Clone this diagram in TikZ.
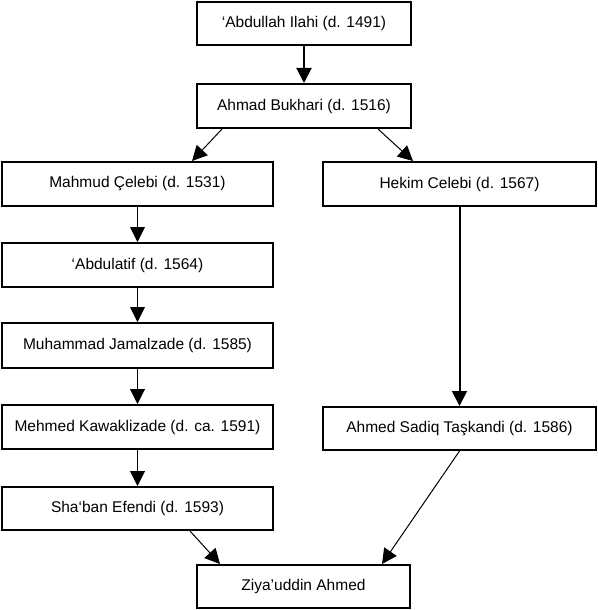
\documentclass[tikz,border=0pt]{standalone}
\usepackage{fontspec}
\setmainfont{Liberation Sans}
\usetikzlibrary{arrows.meta}
\begin{document}
\begin{tikzpicture}[x=1pt,y=-1pt,
  box/.style={draw=black, line width=2pt, rectangle, inner sep=0pt, font=\fontsize{15.5}{18}\selectfont},
  thin arrow/.style={line width=1pt, -{Triangle[length=15pt,width=15pt]}},
  thick arrow/.style={line width=2pt, -{Triangle[length=15pt,width=15pt]}}]
\useasboundingbox (0,0) rectangle (597,610);
\node[box, minimum width=214pt, minimum height=43pt] (n1) at (304,23.5) {‘Abdullah Ilahi (d. 1491)};
\node[box, minimum width=214pt, minimum height=44pt] (n2) at (304,106) {Ahmad Bukhari (d. 1516)};
\node[box, minimum width=271pt, minimum height=44pt] (n3) at (137.5,184) {Mahmud Çelebi (d. 1531)};
\node[box, minimum width=271pt, minimum height=44pt] (n4) at (137.5,265) {‘Abdulatif (d. 1564)};
\node[box, minimum width=271pt, minimum height=45pt] (n5) at (137.5,345.5) {Muhammad Jamalzade (d. 1585)};
\node[box, minimum width=271pt, minimum height=44pt] (n6) at (137.5,427) {Mehmed Kawaklizade (d. ca. 1591)};
\node[box, minimum width=271pt, minimum height=43pt] (n7) at (137.5,508.5) {Sha‘ban Efendi (d. 1593)};
\node[box, minimum width=213pt, minimum height=43pt] (n8) at (303.5,586.5) {Ziya’uddin Ahmed};
\node[box, minimum width=273pt, minimum height=44pt] (n9) at (459.5,184) {Hekim Celebi (d. 1567)};
\node[box, minimum width=273pt, minimum height=43pt] (n10) at (459.5,428.5) {Ahmed Sadiq Taşkandi (d. 1586)};

\draw[thick arrow] (n1) -- (n2);
\draw[thin arrow] ([xshift=-82pt]n2.south) -- ([xshift=54.5pt]n3.north);
\draw[thin arrow] ([xshift=74pt]n2.south) -- ([xshift=-46.5pt]n9.north);
\draw[thin arrow] (n3) -- (n4);
\draw[thin arrow] (n4) -- (n5);
\draw[thin arrow] (n5) -- (n6);
\draw[thin arrow] (n6) -- (n7);
\draw[thick arrow] (n9) -- (n10);
\draw[thin arrow] ([xshift=52.5pt]n7.south) -- ([xshift=-83.5pt]n8.north);
\draw[thin arrow] (n10.south) -- ([xshift=78.5pt]n8.north);
\end{tikzpicture}
\end{document}
